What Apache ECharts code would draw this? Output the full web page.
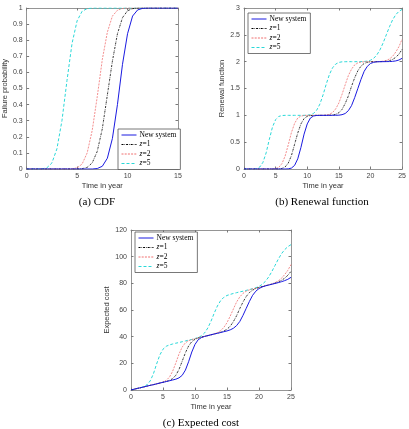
<!DOCTYPE html>
<html>
<head>
<meta charset="utf-8">
<script src="https://cdn.jsdelivr.net/npm/echarts@6/dist/echarts.min.js"></script>
<style>
  html, body { margin: 0; padding: 0; background: #fff; }
  #chart { width: 409px; height: 429px; }
</style>
</head>
<body>
<div id="chart"></div>
<script>
// time grids (years)
var tCdf = [0, 0.5, 1, 1.5, 2, 2.5, 3, 3.5, 4, 4.5, 5, 5.5, 6, 6.5, 7, 7.5, 8, 8.5, 9, 9.5,
  10, 10.5, 11, 11.5, 12, 12.5, 13, 13.5, 14, 14.5, 15];
var tLong = [0, 0.5, 1, 1.5, 2, 2.5, 3, 3.5, 4, 4.5, 5, 5.5, 6, 6.5, 7, 7.5, 8, 8.5, 9, 9.5,
  10, 10.5, 11, 11.5, 12, 12.5, 13, 13.5, 14, 14.5, 15, 15.5, 16, 16.5, 17, 17.5, 18, 18.5, 19, 19.5,
  20, 20.5, 21, 21.5, 22, 22.5, 23, 23.5, 24, 24.5, 25];

var seriesNames = ["New system", "z=1", "z=2", "z=5"];

// (a) CDF
var cdfNew = [0, 0, 0, 0, 0, 0, 0, 0, 0, 0, 0, 0, 0, 0,
  0.003, 0.017, 0.067, 0.19, 0.40, 0.65, 0.84, 0.95, 0.988, 0.998,
  1, 1, 1, 1, 1, 1, 1];
var cdfZ1 = [0, 0, 0, 0, 0, 0, 0, 0, 0, 0, 0,
  0.002, 0.01, 0.038, 0.11, 0.25, 0.46, 0.67, 0.84, 0.94, 0.983, 0.996,
  1, 1, 1, 1, 1, 1, 1, 1, 1];
var cdfZ2 = [0, 0, 0, 0, 0, 0, 0, 0, 0,
  0.001, 0.007, 0.031, 0.10, 0.24, 0.45, 0.68, 0.85, 0.95, 0.986, 0.997,
  1, 1, 1, 1, 1, 1, 1, 1, 1, 1, 1];
var cdfZ5 = [0, 0, 0,
  0.001, 0.007, 0.037, 0.125, 0.30, 0.55, 0.78, 0.92, 0.98, 0.996,
  1, 1, 1, 1, 1, 1, 1, 1, 1, 1, 1, 1, 1, 1, 1, 1, 1, 1];

// (b) renewal function
var renNew = [0, 0, 0, 0, 0, 0, 0, 0, 0, 0, 0, 0, 0, 0,
  0.003, 0.017, 0.067, 0.19, 0.40, 0.65, 0.84, 0.95, 0.988, 0.998,
  1, 1, 1, 1, 1,
  1.001, 1.003, 1.012, 1.034, 1.087, 1.18, 1.33, 1.5, 1.67, 1.82, 1.913, 1.966, 1.988, 1.997, 1.999,
  2.0, 2.001, 2.002, 2.006, 2.014, 2.031, 2.063];
var renZ1 = [0, 0, 0, 0, 0, 0, 0, 0, 0, 0, 0,
  0.002, 0.01, 0.038, 0.11, 0.25, 0.46, 0.67, 0.84, 0.94, 0.983, 0.996,
  1, 1, 1, 1, 1,
  1.002, 1.006, 1.018, 1.049, 1.11, 1.22, 1.36, 1.54, 1.70, 1.83, 1.918, 1.966, 1.988, 1.997, 1.999,
  2.0, 2.001, 2.003, 2.008, 2.019, 2.042, 2.081, 2.14, 2.23];
var renZ2 = [0, 0, 0, 0, 0, 0, 0, 0, 0,
  0.001, 0.007, 0.031, 0.10, 0.24, 0.45, 0.68, 0.85, 0.95, 0.986, 0.997,
  1, 1, 1, 1, 1,
  1.001, 1.005, 1.018, 1.051, 1.12, 1.23, 1.39, 1.57, 1.74, 1.86, 1.94, 1.977, 1.993, 1.998,
  2.0, 2.0, 2.0, 2.001, 2.003, 2.009, 2.023, 2.05, 2.10, 2.18, 2.28, 2.42];
var renZ5 = [0, 0, 0,
  0.001, 0.007, 0.037, 0.125, 0.30, 0.55, 0.78, 0.92, 0.98, 0.996,
  1, 1, 1, 1, 1, 1, 1,
  1.003, 1.011, 1.036, 1.097, 1.21, 1.38, 1.58, 1.76, 1.885, 1.955, 1.986, 1.997, 1.999,
  2.0, 2.0, 2.0, 2.0,
  2.001, 2.004, 2.01, 2.027, 2.062, 2.125, 2.22, 2.35, 2.5, 2.65, 2.78, 2.875, 2.938, 2.973];

// (c) expected cost
var costNew = [0, 0.6, 1.2, 1.7, 2.3, 2.9, 3.5, 4.0, 4.6, 5.2, 5.8, 6.3, 6.9, 7.5,
  8.1, 9.1, 11.0, 14.9, 21.2, 28.5, 34.2, 37.7, 39.3, 40.2,
  40.8, 41.4, 42.0, 42.5, 43.1,
  43.7, 44.3, 45.1, 46.3, 48.3, 51.4, 56.0, 61.2, 66.4, 71.0, 74.1, 76.1, 77.3, 78.1, 78.7,
  79.3, 79.9, 80.5, 81.2, 82.0, 83.0, 84.5];
var costZ1 = [0, 0.6, 1.2, 1.7, 2.3, 2.9, 3.5, 4.0, 4.6, 5.2, 5.8,
  6.4, 7.2, 8.5, 11.0, 15.4, 21.6, 27.9, 33.0, 36.3, 38.0, 39.0,
  39.7, 40.2, 40.8, 41.4, 42.0,
  42.6, 43.3, 44.2, 45.6, 47.8, 51.3, 55.7, 61.1, 66.0, 70.1, 73.1, 74.9, 76.1, 76.9, 77.5,
  78.2, 78.8, 79.4, 80.1, 81.0, 82.2, 83.8, 86.0, 89.0];
var costZ2 = [0, 0.6, 1.2, 1.7, 2.3, 2.9, 3.5, 4.0, 4.6,
  5.2, 5.9, 7.2, 9.6, 14.0, 20.2, 27.0, 32.2, 35.4, 37.0, 37.8,
  38.5, 39.1, 39.7, 40.2, 40.8,
  41.4, 42.1, 43.0, 44.5, 46.9, 50.5, 55.4, 60.8, 66.0, 69.8, 72.5, 74.1, 75.1, 75.8,
  76.4, 77.0, 77.6, 78.2, 78.8, 79.5, 80.5, 81.8, 83.7, 86.5, 89.7, 94.1];
var costZ5 = [0, 0.6, 1.2,
  1.8, 2.5, 3.9, 6.8, 12.1, 19.5, 26.2, 30.6, 32.8, 33.8,
  34.5, 35.1, 35.6, 36.2, 36.8, 37.4, 37.9,
  38.6, 39.4, 40.6, 42.8, 46.5, 51.6, 57.6, 63.0, 67.0, 69.5, 70.9, 71.7, 72.4,
  73.0, 73.6, 74.1, 74.7,
  75.3, 76.0, 76.7, 77.7, 79.2, 81.5, 84.7, 88.8, 93.4, 98.0, 102.1, 105.2, 107.5, 109.0];

var chart = echarts.init(document.getElementById("chart"), null, { renderer: "canvas" });

var sans = "Liberation Sans";
var serif = "Liberation Serif";
var frameColor = "#7a7a7a";

var lineStyles = [
  { color: "#1a1ae0", width: 1, type: "solid" },
  { color: "#000000", width: 0.8, type: [2, 1, 0.6, 1] },
  { color: "#f07070", width: 0.8, type: [2, 1.2] },
  { color: "#2ad8d8", width: 1, type: [3, 2] },
];

function zip(xs, ys) {
  var out = [];
  for (var i = 0; i < xs.length; i++) out.push([xs[i], ys[i]]);
  return out;
}

function xAxes(gridIndex, max) {
  return [
    {
      type: "value", gridIndex: gridIndex, position: "bottom", min: 0, max: max, interval: 5,
      name: "Time in year", nameLocation: "middle", nameGap: 13,
      nameTextStyle: { fontFamily: sans, fontSize: 7.5, color: "#333" },
      axisLine: { lineStyle: { color: frameColor, width: 0.8 } },
      axisTick: { inside: true, length: 2.5, lineStyle: { color: frameColor } },
      axisLabel: { fontFamily: sans, fontSize: 7, color: "#444", margin: 4 },
      splitLine: { show: false },
    },
    {
      type: "value", gridIndex: gridIndex, position: "top", min: 0, max: max, interval: 5,
      axisLine: { onZero: false, lineStyle: { color: frameColor, width: 0.8 } },
      axisTick: { inside: true, length: 2.5, lineStyle: { color: frameColor } },
      axisLabel: { show: false },
      splitLine: { show: false },
    },
  ];
}

function yAxes(gridIndex, max, interval, name, gap) {
  return [
    {
      type: "value", gridIndex: gridIndex, position: "left", min: 0, max: max, interval: interval,
      name: name, nameLocation: "middle", nameGap: gap,
      nameTextStyle: { fontFamily: sans, fontSize: 7.5, color: "#333" },
      axisLine: { lineStyle: { color: frameColor, width: 0.8 } },
      axisTick: { inside: true, length: 2.5, lineStyle: { color: frameColor } },
      axisLabel: { fontFamily: sans, fontSize: 7, color: "#444", margin: 4 },
      splitLine: { show: false },
    },
    {
      type: "value", gridIndex: gridIndex, position: "right", min: 0, max: max, interval: interval,
      axisLine: { onZero: false, lineStyle: { color: frameColor, width: 0.8 } },
      axisTick: { inside: true, length: 2.5, lineStyle: { color: frameColor } },
      axisLabel: { show: false },
      splitLine: { show: false },
    },
  ];
}

function makeSeries(axisIndex, xs, lists) {
  return lists.map(function (vals, k) {
    return {
      name: seriesNames[k],
      type: "line",
      xAxisIndex: axisIndex,
      yAxisIndex: axisIndex,
      symbol: "none",
      smooth: false,
      color: lineStyles[k].color,
      itemStyle: { opacity: 0 },
      lineStyle: lineStyles[k],
      z: 10 - k,
      data: zip(xs, vals),
    };
  });
}

function makeLegend(left, top) {
  return {
    left: left,
    top: top,
    orient: "vertical",
    data: seriesNames,
    itemWidth: 15,
    itemHeight: 7,
    itemGap: 1.5,
    padding: [2, 4, 2, 3],
    backgroundColor: "#fff",
    borderColor: "#555",
    borderWidth: 0.8,
    borderRadius: 0,
    selectedMode: false,
    itemStyle: { opacity: 0 },
    lineStyle: { width: 1 },
    formatter: function (name) {
      if (name.charAt(0) === "z") return "{i|z}" + name.slice(1);
      return name;
    },
    textStyle: {
      fontFamily: serif, fontSize: 7.5, color: "#000", padding: [0, 0, 0, -2],
      rich: { i: { fontFamily: serif, fontStyle: "italic", fontSize: 7.5, color: "#000" } },
    },
  };
}

function caption(text, x, y) {
  return {
    type: "text", x: x, y: y,
    style: { text: text, fontFamily: serif, fontSize: 11, fill: "#000", align: "center", verticalAlign: "middle" },
  };
}

var option = {
  animation: false,
  backgroundColor: "#fff",
  grid: [
    { left: 18, top: 8, width: 160, height: 161, show: false },
    { left: 244, top: 8, width: 159, height: 161, show: false },
    { left: 131, top: 230, width: 160, height: 160, show: false },
  ],
  xAxis: [].concat(xAxes(0, 15), xAxes(1, 25), xAxes(2, 25)),
  yAxis: [].concat(
    yAxes(0, 1, 0.1, "Failure probability", 13),
    yAxes(1, 3, 0.5, "Renewal function", 14),
    yAxes(2, 120, 20, "Expected cost", 16)
  ),
  legend: [makeLegend(118, 129), makeLegend(248, 13), makeLegend(135, 232)],
  series: [].concat(
    makeSeries(0, tCdf, [cdfNew, cdfZ1, cdfZ2, cdfZ5]),
    makeSeries(2, tLong, [renNew, renZ1, renZ2, renZ5]),
    makeSeries(4, tLong, [costNew, costZ1, costZ2, costZ5])
  ),
  graphic: [
    caption("(a) CDF", 97, 202),
    caption("(b) Renewal function", 322, 202),
    caption("(c) Expected cost", 201, 423),
  ],
};

chart.setOption(option);
</script>
</body>
</html>
